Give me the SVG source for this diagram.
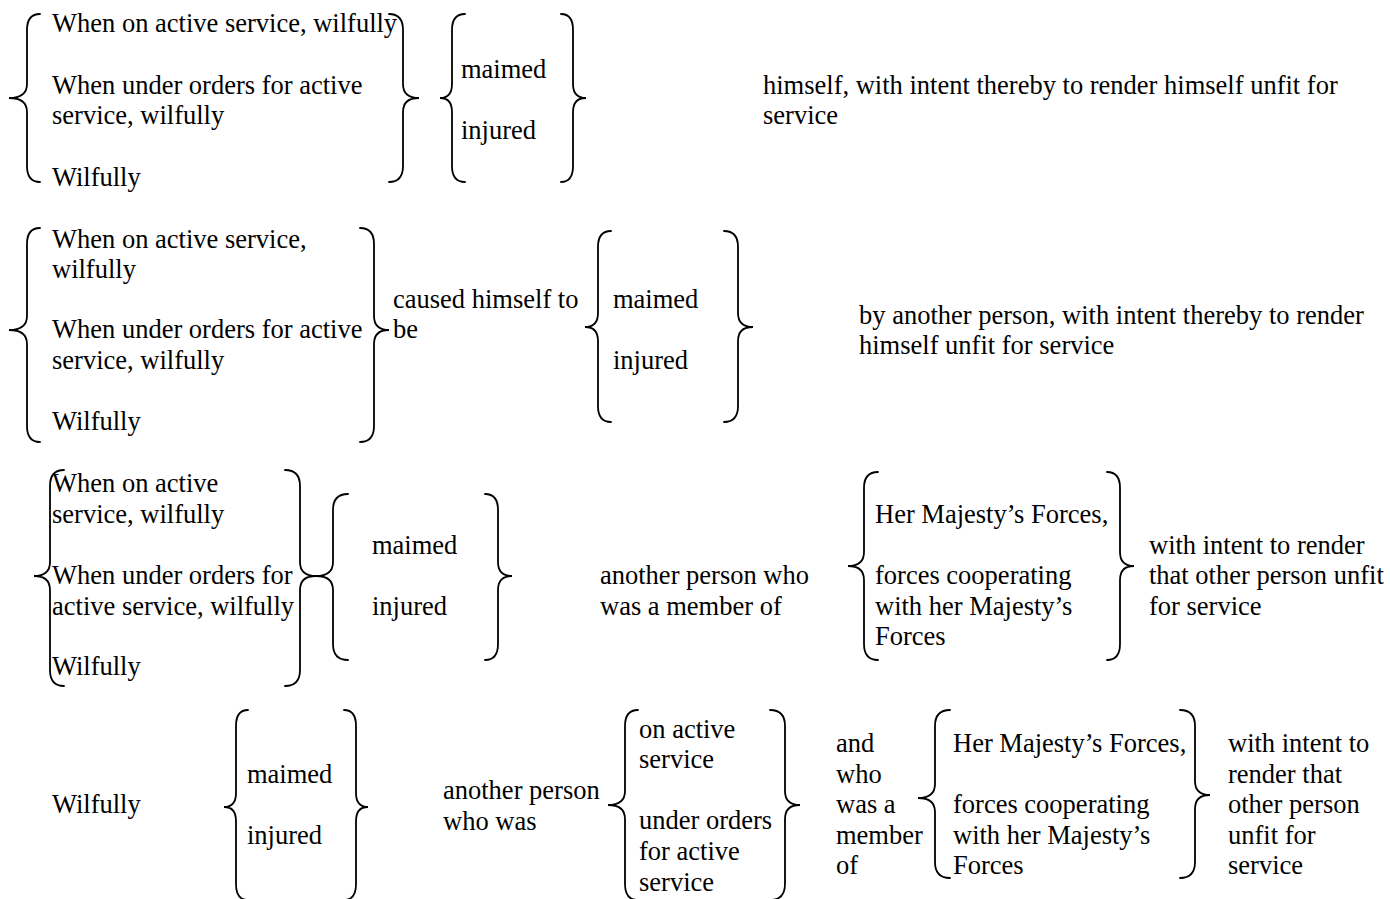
<svg xmlns="http://www.w3.org/2000/svg" width="1390" height="899" viewBox="0 0 1390 899">
<style>
text{font-family:"Liberation Serif","Times New Roman",serif;font-size:26.5px;fill:#000}
.b{fill:none;stroke:#000;stroke-width:1.8;stroke-linecap:round}
</style>
<rect width="1390" height="899" fill="#fff"/>
<g id="connectors">
<!-- row 1 -->
<path class="b" d="M40 14 Q27 14 27 30 L27 84 Q27 98 9 98 Q27 98 27 112 L27 166 Q27 182 40 182"/>
<path class="b" d="M389 14 Q403 14 403 30 L403 84 Q403 98 419 98 Q403 98 403 112 L403 166 Q403 182 389 182"/>
<path class="b" d="M465 14 Q452 14 452 30 L452 84 Q452 98 440 98 Q452 98 452 112 L452 166 Q452 182 465 182"/>
<path class="b" d="M561 14 Q573 14 573 30 L573 84 Q573 98 586 98 Q573 98 573 112 L573 166 Q573 182 561 182"/>
<!-- row 2 -->
<path class="b" d="M40 228 Q27 228 27 244 L27 316 Q27 330 9 330 Q27 330 27 344 L27 426 Q27 442 40 442"/>
<path class="b" d="M360 228 Q374 228 374 244 L374 316 Q374 330 389 330 Q374 330 374 344 L374 426 Q374 442 360 442"/>
<path class="b" d="M611 231 Q598 231 598 247 L598 313 Q598 327 585 327 Q598 327 598 341 L598 406 Q598 422 611 422"/>
<path class="b" d="M724 231 Q738 231 738 247 L738 313 Q738 327 753 327 Q738 327 738 341 L738 406 Q738 422 724 422"/>
<!-- row 3 -->
<path class="b" d="M64 470 Q50 470 50 486 L50 562 Q50 576 34 576 Q50 576 50 590 L50 670 Q50 686 64 686"/>
<path class="b" d="M285 470 Q300 470 300 486 L300 562 Q300 576 316 576 Q300 576 300 590 L300 670 Q300 686 285 686"/>
<path class="b" d="M348 494 Q333 494 333 510 L333 562 Q333 576 316 576 Q333 576 333 590 L333 644 Q333 660 348 660"/>
<path class="b" d="M485 494 Q498 494 498 510 L498 562 Q498 576 512 576 Q498 576 498 590 L498 644 Q498 660 485 660"/>
<path class="b" d="M878 472 Q864 472 864 488 L864 552 Q864 566 848 566 Q864 566 864 580 L864 644 Q864 660 878 660"/>
<path class="b" d="M1107 472 Q1120 472 1120 488 L1120 552 Q1120 566 1134 566 Q1120 566 1120 580 L1120 644 Q1120 660 1107 660"/>
<!-- row 4 -->
<path class="b" d="M248 710 Q236 710 236 726 L236 793 Q236 807 224 807 Q236 807 236 821 L236 884 Q236 900 248 900"/>
<path class="b" d="M344 710 Q356 710 356 726 L356 793 Q356 807 368 807 Q356 807 356 821 L356 884 Q356 900 344 900"/>
<path class="b" d="M638 710 Q625 710 625 726 L625 791 Q625 805 608 805 Q625 805 625 819 L625 884 Q625 900 638 900"/>
<path class="b" d="M770 710 Q785 710 785 726 L785 791 Q785 805 800 805 Q785 805 785 819 L785 884 Q785 900 770 900"/>
<path class="b" d="M950 710 Q935 710 935 726 L935 784 Q935 798 918 798 Q935 798 935 812 L935 862 Q935 878 950 878"/>
<path class="b" d="M1180 710 Q1195 710 1195 726 L1195 781 Q1195 795 1210 795 Q1195 795 1195 809 L1195 862 Q1195 878 1180 878"/>
</g>
<g id="r1-when"><text x="52" y="32">When on active service, wilfully</text><text x="52" y="94">When under orders for active</text><text x="52" y="124">service, wilfully</text><text x="52" y="186">Wilfully</text></g>
<g id="r1-harm"><text x="461" y="78">maimed</text><text x="461" y="139">injured</text></g>
<g id="r1-end"><text x="763" y="94">himself, with intent thereby to render himself unfit for</text><text x="763" y="124">service</text></g>
<g id="r2-when"><text x="52" y="248">When on active service,</text><text x="52" y="278">wilfully</text><text x="52" y="338">When under orders for active</text><text x="52" y="369">service, wilfully</text><text x="52" y="430">Wilfully</text></g>
<g id="r2-caused"><text x="393" y="308">caused himself to</text><text x="393" y="338">be</text></g>
<g id="r2-harm"><text x="613" y="308">maimed</text><text x="613" y="369">injured</text></g>
<g id="r2-end"><text x="859" y="324">by another person, with intent thereby to render</text><text x="859" y="354">himself unfit for service</text></g>
<g id="r3-when"><text x="52" y="492">When on active</text><text x="52" y="523">service, wilfully</text><text x="52" y="584">When under orders for</text><text x="52" y="615">active service, wilfully</text><text x="52" y="675">Wilfully</text></g>
<g id="r3-harm"><text x="372" y="554">maimed</text><text x="372" y="615">injured</text></g>
<g id="r3-person"><text x="600" y="584">another person who</text><text x="600" y="615">was a member of</text></g>
<g id="r3-forces"><text x="875" y="523">Her Majesty’s Forces,</text><text x="875" y="584">forces cooperating</text><text x="875" y="615">with her Majesty’s</text><text x="875" y="645">Forces</text></g>
<g id="r3-end"><text x="1149" y="554">with intent to render</text><text x="1149" y="584">that other person unfit</text><text x="1149" y="615">for service</text></g>
<g id="r4-wilfully"><text x="52" y="813">Wilfully</text></g>
<g id="r4-harm"><text x="247" y="783">maimed</text><text x="247" y="844">injured</text></g>
<g id="r4-person"><text x="443" y="799">another person</text><text x="443" y="830">who was</text></g>
<g id="r4-status"><text x="639" y="738">on active</text><text x="639" y="768">service</text><text x="639" y="829">under orders</text><text x="639" y="860">for active</text><text x="639" y="891">service</text></g>
<g id="r4-member"><text x="836" y="752">and</text><text x="836" y="783">who</text><text x="836" y="813">was a</text><text x="836" y="844">member</text><text x="836" y="874">of</text></g>
<g id="r4-forces"><text x="953" y="752">Her Majesty’s Forces,</text><text x="953" y="813">forces cooperating</text><text x="953" y="844">with her Majesty’s</text><text x="953" y="874">Forces</text></g>
<g id="r4-end"><text x="1228" y="752">with intent to</text><text x="1228" y="783">render that</text><text x="1228" y="813">other person</text><text x="1228" y="844">unfit for</text><text x="1228" y="874">service</text></g>
</svg>
